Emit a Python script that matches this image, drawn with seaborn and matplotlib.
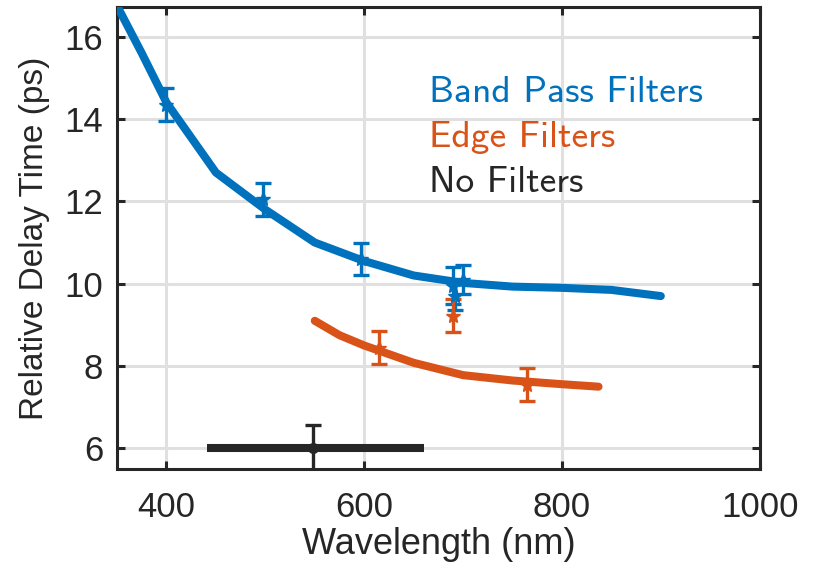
import numpy as np
import pandas as pd
import matplotlib
matplotlib.use("Agg")
import matplotlib.pyplot as plt
import seaborn as sns

# ---- data ----
bp_line_x = [350, 375, 400, 450, 500, 550, 600, 650, 700, 750, 800, 850, 900]
bp_line_y = [16.75, 15.6, 14.4, 12.7, 11.8, 11.0, 10.55, 10.2, 10.02, 9.93, 9.9, 9.85, 9.7]
bp_pts_x = [400, 498, 597, 690, 692, 700]
bp_pts_y = [14.35, 12.05, 10.6, 9.95, 9.7, 10.1]
bp_pts_err = [0.4, 0.4, 0.4, 0.45, 0.35, 0.35]

edge_line_x = [550, 575, 600, 650, 700, 750, 800, 837]
edge_line_y = [9.1, 8.75, 8.5, 8.08, 7.78, 7.65, 7.56, 7.5]
edge_pts_x = [615, 690, 765]
edge_pts_y = [8.45, 9.22, 7.55]
edge_pts_err = [0.4, 0.4, 0.4]

nf_x = [548]
nf_y = [6.02]
nf_yerr = [0.55]
nf_xrange = [441, 660]

labels = ["Band Pass Filters", "Edge Filters", "No Filters"]
x_ticks = [400, 600, 800, 1000]
y_ticks = [6, 8, 10, 12, 14, 16]

BLUE = "#0072BD"
ORANGE = "#D95319"
BLACK = "#262626"

sns.set_theme(style="ticks")
plt.rcParams["font.family"] = ["Liberation Sans", "DejaVu Sans"]
plt.rcParams["axes.unicode_minus"] = False

fig = plt.figure(figsize=(8.16, 5.72), dpi=100)
ax = fig.add_axes([0.1434, 0.18, 0.931 - 0.1434, 0.9878 - 0.18])

bp_df = pd.DataFrame({"x": bp_line_x, "y": bp_line_y})
ed_df = pd.DataFrame({"x": edge_line_x, "y": edge_line_y})
sns.lineplot(data=bp_df, x="x", y="y", ax=ax, color=BLUE, lw=5.8, sort=False, zorder=3)
sns.lineplot(data=ed_df, x="x", y="y", ax=ax, color=ORANGE, lw=5.8, sort=False, zorder=3)

ax.errorbar(bp_pts_x, bp_pts_y, yerr=bp_pts_err, fmt="*", color=BLUE, ms=11,
            elinewidth=2.4, capsize=6, capthick=2.4, zorder=4)
ax.errorbar(edge_pts_x, edge_pts_y, yerr=edge_pts_err, fmt="*", color=ORANGE, ms=11,
            elinewidth=2.4, capsize=6, capthick=2.4, zorder=4)
ax.plot(nf_xrange, [nf_y[0], nf_y[0]], color=BLACK, lw=5.8, solid_capstyle="butt", zorder=3)
ax.errorbar(nf_x, nf_y, yerr=nf_yerr, fmt="o", color=BLACK, ms=7,
            elinewidth=2.4, capsize=6, capthick=2.4, zorder=4)

ax.set_xlim(350, 1000)
ax.set_ylim(5.5, 16.72)
ax.set_xticks(x_ticks)
ax.set_yticks(y_ticks)
ax.grid(True, color="#e0e0e0", lw=2.2, zorder=0)
ax.set_axisbelow(True)
for s in ax.spines.values():
    s.set_visible(True)
    s.set_color(BLACK)
    s.set_linewidth(2.2)
ax.tick_params(direction="in", length=6, width=2.2, colors=BLACK, labelsize=25,
               top=True, right=True, labeltop=False, labelright=False)
ax.tick_params(axis="x", pad=16)
ax.tick_params(axis="y", pad=10)
ax.set_xlabel("Wavelength (nm)", fontsize=26, color=BLACK, labelpad=2)
ax.set_ylabel("Relative Delay Time (ps)", fontsize=24, color=BLACK, labelpad=10)

for lab, col, yy in zip(labels, [BLUE, ORANGE, BLACK], [14.64, 13.55, 12.46]):
    ax.text(666, yy, lab, color=col, fontsize=27, va="center", ha="left",
            family=["cmss10", "DejaVu Sans"])

fig.savefig("out.png", dpi=100)
